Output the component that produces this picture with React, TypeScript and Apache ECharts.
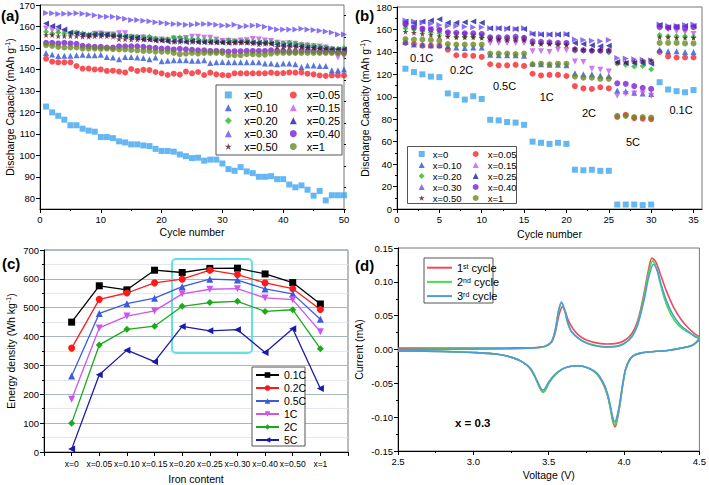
import React, { useEffect, useRef } from 'react';
import * as echarts from 'echarts';

const FONT = '"Liberation Sans", Arial, Helvetica, sans-serif';
const STAR = 'path://M50,0L61.2,34.5L97.6,34.5L68.2,55.9L79.4,90.5L50,69.1L20.6,90.5L31.8,55.9L2.4,34.5L38.8,34.5Z';

// ---------- shared series look (a) & (b) ----------
const seriesNames = ['x=0', 'x=0.05', 'x=0.10', 'x=0.15', 'x=0.20', 'x=0.25', 'x=0.30', 'x=0.40', 'x=0.50', 'x=1'];
const seriesColors = ['#3da5f0', '#f5252a', '#2e55d6', '#c257ee', '#1fbe1f', '#1a1f9a', '#6d4cf2', '#7a1fd6', '#5c1428', '#6a8a22'];
const seriesSymbols = ['rect', 'circle', 'triangle', 'triangle', 'diamond', 'triangle', 'triangle', 'circle', STAR, 'circle'];
const seriesRotate = [0, 0, 0, 180, 0, 90, -90, 0, 0, 0];

// ---------- (a) cycling at 0.1C, cycles 1..50 ----------
const a_x0 = [122.7, 120, 118.4, 116.6, 114, 114, 112.4, 111.5, 111, 108.5, 108.5, 108, 106.5, 106, 105.1, 105.1, 104.6, 104.3, 103, 102, 102, 101.7, 100.4, 99.6, 98.7, 98.9, 97.5, 98, 98, 96.2, 93.6, 92.8, 94.5, 92.5, 91.7, 90, 90, 90.3, 88.9, 88.9, 86.4, 85.1, 86, 84, 81.2, 83.4, 79, 81.4, 81.4, 81.4];
const a_x05 = [145, 143.6, 143.3, 143.3, 143.3, 141.6, 140.4, 140.4, 140, 140, 139.3, 139.4, 139, 138.6, 140.2, 139.3, 139.8, 139.7, 138.8, 138.2, 137.4, 138, 137.6, 139, 138.2, 138.8, 137.4, 138.5, 137.7, 137.4, 137.2, 138.2, 138.2, 138.2, 138.2, 138.2, 138.2, 138.5, 138.2, 138.3, 138.6, 138.5, 138.6, 138, 137.7, 137.2, 137, 137.2, 137.2, 137.2];
const a_x10 = [147.7, 146.9, 146.3, 146.4, 146.4, 146.6, 146.8, 146.6, 146.6, 146.8, 145.8, 145.5, 144.7, 145.8, 145.8, 145.5, 145.3, 144.7, 145.5, 143.8, 144, 144.3, 144.3, 144.3, 144, 144, 144.3, 143, 143.3, 143.4, 143.3, 143.3, 143.3, 143.3, 143.3, 143.3, 142.7, 142.7, 142.4, 142.7, 142.7, 142.4, 141.1, 141.8, 141.8, 141.6, 141.6, 139.6, 139.6, 140];
const a_x15 = [159.1, 158.3, 157.8, 157.2, 156.4, 156.6, 156, 155.6, 156.6, 156.7, 156.3, 156.3, 156.9, 156.9, 155, 154.7, 154.9, 154.4, 153.9, 153.9, 153.6, 154.4, 154.2, 154.6, 155.2, 155.2, 154.7, 154.7, 153.9, 153.2, 153.3, 153, 153.5, 153.6, 154.2, 153.9, 153.5, 153.2, 152.4, 152.1, 152.2, 151.9, 151.3, 151.1, 150.8, 150.7, 150.2, 149.3, 145.5, 146.1];
const a_x20 = [157.5, 156.7, 157.2, 156.7, 156.7, 157.2, 156.7, 156.1, 156.6, 156.7, 156.3, 156.3, 155.8, 155.6, 155.5, 155.2, 155, 155.2, 154.4, 153.9, 154.1, 154.7, 154.9, 154.4, 154.1, 154.1, 153.6, 153.6, 153.5, 152.8, 153.6, 153.2, 153, 153.2, 152.8, 152.5, 152.5, 152.5, 152.5, 152.1, 152.4, 151.9, 151.6, 151.3, 151, 150.5, 150.2, 149.7, 149.6, 150];
const a_x25 = [161.4, 160.2, 159.9, 158.6, 157.2, 156.7, 156.3, 156, 156.3, 156.3, 156.3, 155.8, 155.6, 155.3, 154.9, 154.7, 154.1, 153.9, 153.5, 153.5, 153, 153.2, 153.3, 152.8, 153.2, 152.8, 152.8, 152.8, 152.7, 152.5, 152.4, 152.7, 152.8, 152.7, 152.5, 152.4, 152.4, 151.9, 151.6, 151.3, 151.3, 151, 150.7, 150.2, 150.2, 149.9, 149.6, 149.3, 149.3, 149.3];
const a_x30 = [166.3, 166.1, 165.8, 165.9, 165.9, 166.1, 165.9, 165.6, 165.2, 164.7, 164.5, 164.5, 164.1, 163.6, 163, 163, 162.7, 162.4, 162, 161.7, 161.4, 161.1, 161.1, 160.8, 160.8, 161.1, 161.1, 161.1, 160.8, 160.5, 160.5, 160.8, 159.9, 160.2, 160.5, 160.5, 159.9, 159.2, 158.6, 158.6, 158.6, 158.6, 158.9, 158.6, 158.3, 158, 157.7, 157.2, 156.3, 156.3];
const a_x40 = [152.4, 152.4, 152.1, 152.4, 152.1, 151.9, 151, 150.8, 150.5, 150.5, 150.2, 150.2, 150.8, 150.8, 150.8, 150.8, 150.5, 150.2, 150, 149.7, 149.7, 149.3, 149.6, 149.4, 149.1, 148.9, 148.9, 148.6, 148.6, 148.5, 148.3, 148.5, 148.5, 148.6, 148.6, 148.6, 148.6, 148.9, 148.6, 148.6, 148.3, 148.3, 148.6, 148.6, 148.5, 148.3, 148.3, 148.3, 148, 148];
const a_x50 = [156, 156, 155.5, 155.5, 155.5, 155.5, 155.2, 155.2, 155.5, 155.5, 155.5, 155.2, 154.1, 154.1, 153.9, 153.9, 153.9, 153.9, 153.6, 153.6, 153.6, 152.8, 152.8, 153, 152.8, 152.8, 152.7, 152.5, 152.5, 152.7, 152.4, 152.4, 152.4, 152.4, 152.1, 151.7, 151.9, 152.1, 150.5, 150.5, 150.5, 150.5, 150.5, 150.2, 150, 149.7, 149.4, 149.3, 149.3, 149.3];
const a_x1 = [151.3, 151, 150.5, 150.2, 150.2, 150.2, 149.7, 149.7, 149.7, 149.6, 149.7, 149.4, 149.3, 149.3, 149.1, 148.9, 148.6, 148.6, 148.3, 148.3, 148.3, 147.7, 147.1, 147.4, 147.7, 147.4, 147.7, 147.7, 147.7, 147.7, 146.6, 146.6, 146.6, 147.1, 147.1, 146.9, 146.9, 147.4, 147.7, 147.7, 147.7, 147.7, 147.7, 147.7, 147.7, 147.7, 147.7, 147.7, 147.7, 147.4];
const capA = [a_x0, a_x05, a_x10, a_x15, a_x20, a_x25, a_x30, a_x40, a_x50, a_x1];

// ---------- (b) rate capability, cycles 1..35 ----------
const b_x0 = [125, 122, 120, 118, 117.5, 103, 101.5, 97.5, 100.5, 98, 79.5, 79, 77.5, 77, 75, 60, 59, 58, 59, 58, 35, 34.5, 35, 34, 34, 4, 4, 4, 3.5, 4, 113, 106.5, 105, 104, 106];
const b_x05 = [148, 147, 145.5, 145.5, 145.5, 142, 137, 137, 136.5, 135.5, 129, 128, 128, 128.5, 127.5, 120.5, 119, 119.5, 119.5, 118.5, 109.5, 107.5, 107, 108.5, 107.5, 82, 84, 81, 80.5, 80, 140, 136, 135, 135, 135];
const b_x10 = [149, 146.5, 146.5, 146, 146, 145, 144, 143.5, 144, 144, 137.5, 137, 137, 137, 136.5, 129.5, 129, 128.5, 128.5, 128, 121, 120, 120, 119, 118.5, 105.5, 105, 103.5, 103, 102.5, 142, 140.5, 140.5, 140, 140];
const b_x15 = [163, 161, 160, 160, 159, 156, 155, 155, 154, 154, 148, 148, 148, 148, 148, 140.5, 140.5, 140, 142, 141.5, 131.5, 131, 125, 124, 122.5, 101, 102.5, 103, 103, 101, 163, 160, 158.5, 157.5, 156];
const b_x20 = [161, 160, 158.5, 157.5, 156.5, 154.5, 153.5, 153.5, 153.5, 153, 152.5, 152, 152, 152, 152.5, 148, 147.5, 147.5, 147, 147, 141, 141, 141, 141, 139.5, 129.5, 128.5, 127, 127.5, 124.5, 155, 154, 154, 154, 153.5];
const b_x25 = [167, 166, 167, 168, 169, 166, 166, 166.5, 167, 166, 161, 161, 161, 160.5, 160.5, 156, 155.5, 155.5, 155.5, 155.5, 148, 147, 146, 145, 145.5, 131, 130, 130, 130, 129.5, 164, 162, 162.5, 163, 163];
const b_x30 = [168, 167, 166, 165, 164, 163, 163, 162.5, 162, 162, 161, 161, 160.5, 160.5, 161, 156.5, 156, 155.5, 155.5, 156, 151, 150.5, 150, 149.5, 150.5, 134.5, 134, 133.5, 133, 132.5, 164.5, 163, 163, 164, 164.5];
const b_x40 = [164.5, 162, 160.5, 160, 159.5, 157.5, 157, 156.5, 156.5, 156, 153, 153, 153, 153.5, 152.5, 149.5, 149, 148.5, 148, 148, 142, 141.5, 141, 141, 141, 112, 111.5, 109.5, 108, 107, 162, 161.5, 162, 161, 162];
const b_x50 = [158, 157, 156, 155, 154, 153.5, 153, 153, 153, 152.5, 151, 151, 150.5, 150.5, 150.5, 147, 147, 147, 146.5, 146, 143, 142, 142, 142, 141.5, 130.5, 131, 131.5, 132, 132.5, 153, 153, 152.5, 152.5, 152.5];
const b_x1 = [151.5, 151, 151, 150.5, 150, 147, 146.5, 146.5, 146.5, 146.5, 138.5, 138.5, 138.5, 138, 138.5, 129, 129.5, 129, 129.5, 129.5, 118, 117, 117, 116, 116, 83, 83, 82, 82, 81.5, 148, 148, 148, 147.5, 147.5];
const capB = [b_x0, b_x05, b_x10, b_x15, b_x20, b_x25, b_x30, b_x40, b_x50, b_x1];
const rateLabels = ['0.1C', '0.2C', '0.5C', '1C', '2C', '5C', '0.1C'];

// ---------- (c) energy density ----------
const ironContent = ['x=0', 'x=0.05', 'x=0.10', 'x=0.15', 'x=0.20', 'x=0.25', 'x=0.30', 'x=0.40', 'x=0.50', 'x=1'];
const rateNames = ['0.1C', '0.2C', '0.5C', '1C', '2C', '5C'];
const e_01C = [450, 576, 562, 630, 622, 636, 637, 617, 587, 513];
const e_02C = [360, 529, 551, 586, 599, 630, 615, 586, 566, 494];
const e_05C = [263, 480, 514, 533, 573, 599, 596, 565, 548, 460];
const e_1C = [183, 430, 471, 489, 548, 564, 566, 534, 528, 417];
const e_2C = [100, 371, 425, 436, 505, 518, 522, 487, 493, 358];
const e_5C = [10, 268, 353, 313, 435, 420, 424, 345, 427, 220];
const energy = [e_01C, e_02C, e_05C, e_1C, e_2C, e_5C];
const rateColors = ['#000000', '#ff1a1a', '#3b5bdb', '#cc55ee', '#1aaa1a', '#1a1aaa'];
const rateSymbols = ['rect', 'circle', 'triangle', 'triangle', 'diamond', 'triangle'];
const rateRotate = [0, 0, 0, 180, 0, 90];

// ---------- (d) cyclic voltammetry, x = 0.3 ----------
const cvUp1 = [[2.5, 0.002], [2.8, 0.002], [3.1, 0.002], [3.3, 0.0025], [3.42, 0.003], [3.48, 0.005], [3.52, 0.011], [3.545, 0.026], [3.565, 0.048], [3.59, 0.063], [3.61, 0.056], [3.63, 0.043], [3.66, 0.031], [3.7, 0.021], [3.75, 0.014], [3.8, 0.0105], [3.88, 0.0082], [3.95, 0.009], [4.0, 0.013], [4.05, 0.023], [4.09, 0.042], [4.13, 0.08], [4.16, 0.115], [4.185, 0.135], [4.21, 0.13], [4.24, 0.112], [4.28, 0.087], [4.33, 0.062], [4.38, 0.044], [4.43, 0.031], [4.47, 0.023], [4.5, 0.018]];
const cvDown1 = [[4.5, 0.018], [4.48, 0.011], [4.45, 0.006], [4.4, 0.003], [4.3, -0.001], [4.2, -0.003], [4.12, -0.005], [4.07, -0.008], [4.04, -0.014], [4.01, -0.03], [3.99, -0.055], [3.97, -0.086], [3.95, -0.109], [3.94, -0.114], [3.925, -0.106], [3.91, -0.088], [3.89, -0.068], [3.86, -0.05], [3.82, -0.036], [3.77, -0.028], [3.7, -0.024], [3.64, -0.025], [3.59, -0.029], [3.54, -0.038], [3.5, -0.05], [3.475, -0.061], [3.46, -0.063], [3.44, -0.056], [3.41, -0.041], [3.38, -0.029], [3.33, -0.019], [3.26, -0.012], [3.16, -0.007], [3.0, -0.0045], [2.8, -0.003], [2.5, -0.002]];
const cvUp2 = [[2.5, 0.0], [2.8, 0.0005], [3.1, 0.001], [3.3, 0.0015], [3.42, 0.0025], [3.48, 0.005], [3.52, 0.012], [3.545, 0.03], [3.565, 0.056], [3.585, 0.069], [3.605, 0.058], [3.625, 0.04], [3.65, 0.027], [3.7, 0.016], [3.75, 0.01], [3.8, 0.0065], [3.88, 0.004], [3.95, 0.005], [4.0, 0.009], [4.05, 0.019], [4.09, 0.038], [4.13, 0.075], [4.16, 0.11], [4.19, 0.131], [4.215, 0.12], [4.24, 0.098], [4.27, 0.074], [4.31, 0.052], [4.36, 0.036], [4.42, 0.026], [4.47, 0.02], [4.5, 0.017]];
const cvDown2 = [[4.5, 0.017], [4.48, 0.011], [4.45, 0.006], [4.4, 0.003], [4.3, -0.001], [4.2, -0.003], [4.12, -0.005], [4.07, -0.008], [4.04, -0.014], [4.01, -0.03], [3.99, -0.054], [3.97, -0.084], [3.95, -0.106], [3.94, -0.111], [3.925, -0.104], [3.91, -0.087], [3.89, -0.067], [3.86, -0.049], [3.82, -0.036], [3.77, -0.028], [3.7, -0.024], [3.64, -0.025], [3.59, -0.029], [3.54, -0.038], [3.5, -0.05], [3.475, -0.061], [3.46, -0.063], [3.44, -0.056], [3.41, -0.041], [3.38, -0.029], [3.33, -0.019], [3.26, -0.012], [3.16, -0.007], [3.0, -0.0045], [2.8, -0.003], [2.5, -0.002]];
const cvUp3 = [[2.5, -0.0005], [2.8, 0.0], [3.1, 0.0008], [3.3, 0.0014], [3.42, 0.0025], [3.48, 0.005], [3.52, 0.012], [3.545, 0.031], [3.565, 0.057], [3.585, 0.07], [3.605, 0.059], [3.625, 0.041], [3.65, 0.027], [3.7, 0.016], [3.75, 0.0095], [3.8, 0.006], [3.88, 0.0035], [3.95, 0.0045], [4.0, 0.0085], [4.05, 0.018], [4.09, 0.036], [4.13, 0.07], [4.165, 0.108], [4.195, 0.126], [4.22, 0.117], [4.245, 0.097], [4.28, 0.073], [4.32, 0.053], [4.37, 0.037], [4.43, 0.026], [4.47, 0.019], [4.5, 0.015]];
const cvDown3 = [[4.5, 0.015], [4.48, 0.01], [4.45, 0.006], [4.4, 0.003], [4.3, -0.001], [4.2, -0.003], [4.12, -0.005], [4.07, -0.008], [4.04, -0.014], [4.01, -0.029], [3.99, -0.052], [3.97, -0.081], [3.95, -0.102], [3.94, -0.107], [3.925, -0.1], [3.91, -0.084], [3.89, -0.065], [3.86, -0.048], [3.82, -0.035], [3.77, -0.028], [3.7, -0.024], [3.64, -0.025], [3.59, -0.029], [3.54, -0.037], [3.5, -0.048], [3.475, -0.058], [3.46, -0.06], [3.44, -0.054], [3.41, -0.04], [3.38, -0.028], [3.33, -0.019], [3.26, -0.012], [3.16, -0.007], [3.0, -0.0045], [2.8, -0.003], [2.5, -0.002]];
const cvNames = ['1st cycle', '2nd cycle', '3rd cycle'];
const cvSup = ['st', 'nd', 'rd'];
const cvColors = ['#f04a5a', '#44e044', '#4a9be0'];
const cvCurves = [cvUp1.concat(cvDown1), cvUp2.concat(cvDown2), cvUp3.concat(cvDown3)];

// ---------- ticks ----------
const ticksA = [80, 90, 100, 110, 120, 130, 140, 150, 160, 170];
const minorTicksA = [75, 85, 95, 105, 115, 125, 135, 145, 155, 165];
const ticksBx = [0, 5, 10, 15, 20, 25, 30, 35];

const axisCommon: any = {
  axisLine: { show: true, onZero: false, lineStyle: { color: '#000', width: 1 } },
  axisTick: { show: true, inside: false, length: 4, lineStyle: { color: '#000' } },
  minorTick: { show: true, splitNumber: 2, length: 2, lineStyle: { color: '#000' } },
  axisLabel: { color: '#000', fontSize: 9.5, margin: 5, fontFamily: FONT },
  splitLine: { show: false },
  nameLocation: 'middle',
  nameTextStyle: {
    color: '#000', fontSize: 10.5, fontFamily: FONT,
    rich: { s: { fontSize: 7, fontFamily: FONT, color: '#000', verticalAlign: 'bottom', padding: [0, 0, 5, 0] } },
  },
};

function ax(extra: any) {
  return {
    ...axisCommon,
    ...extra,
    axisLine: { ...axisCommon.axisLine, ...(extra.axisLine || {}) },
    axisTick: { ...axisCommon.axisTick, ...(extra.axisTick || {}) },
    minorTick: { ...axisCommon.minorTick, ...(extra.minorTick || {}) },
    axisLabel: { ...axisCommon.axisLabel, ...(extra.axisLabel || {}) },
  };
}

export default function App() {
  const ref = useRef<HTMLDivElement>(null);
  useEffect(() => {
    if (!ref.current) return;
    const chart = echarts.init(ref.current, null, { renderer: 'svg' });

    const series: any[] = [];
    capA.forEach((vals, i) => {
      series.push({
        type: 'scatter', name: seriesNames[i], xAxisIndex: 0, yAxisIndex: 0,
        symbol: seriesSymbols[i], symbolRotate: seriesRotate[i], symbolSize: 6,
        itemStyle: { color: seriesColors[i] },
        data: vals.map((v, j) => [j + 1, v]),
      });
    });
    capB.forEach((vals, i) => {
      series.push({
        type: 'scatter', name: seriesNames[i], xAxisIndex: 1, yAxisIndex: 1,
        symbol: seriesSymbols[i], symbolRotate: seriesRotate[i], symbolSize: 6,
        itemStyle: { color: seriesColors[i] },
        data: vals.map((v, j) => [j + 1, v]),
      });
    });
    energy.forEach((vals, i) => {
      series.push({
        type: 'line', name: rateNames[i], xAxisIndex: 2, yAxisIndex: 2,
        symbol: rateSymbols[i], symbolRotate: rateRotate[i], symbolSize: 7, showSymbol: true,
        itemStyle: { color: rateColors[i] },
        lineStyle: { color: rateColors[i], width: 1.3 },
        data: vals.map((v, j) => [ironContent[j], v]),
      });
    });
    cvCurves.forEach((pts, i) => {
      series.push({
        type: 'line', name: cvNames[i], xAxisIndex: 3, yAxisIndex: 3,
        symbol: 'none', smooth: 0.3,
        itemStyle: { color: cvColors[i] },
        lineStyle: { color: cvColors[i], width: 1.6 },
        data: pts,
      });
    });

    const legendText = { fontSize: 11, fontFamily: FONT, color: '#000' };
    const colA1 = ['x=0', 'x=0.10', 'x=0.20', 'x=0.30', 'x=0.50'];
    const colA2 = ['x=0.05', 'x=0.15', 'x=0.25', 'x=0.40', 'x=1'];

    const option: any = {
      animation: false,
      textStyle: { fontFamily: FONT },
      grid: [
        { left: 40, top: 5, width: 304, height: 204, show: true, borderColor: '#777', borderWidth: 1 },
        { left: 397, top: 7, width: 305, height: 202, show: true, borderColor: '#777', borderWidth: 1 },
        { left: 44, top: 250, width: 304, height: 203, show: true, borderColor: '#777', borderWidth: 1 },
        { left: 398, top: 248, width: 304, height: 203, show: true, borderColor: '#777', borderWidth: 1 },
      ],
      xAxis: [
        ax({ gridIndex: 0, type: 'value', min: 0, max: 50, interval: 10, name: 'Cycle number', nameGap: 17 }),
        ax({ gridIndex: 1, type: 'value', min: 0, max: 36, interval: 5, name: 'Cycle number', nameGap: 19,
          axisLabel: { customValues: ticksBx }, axisTick: { customValues: ticksBx } }),
        ax({ gridIndex: 2, type: 'category', boundaryGap: false, data: [''].concat(ironContent, ['']),
          name: 'Iron content', nameGap: 21, minorTick: { show: false },
          axisLabel: { interval: 0, fontSize: 8.5, margin: 7 }, axisTick: { interval: 0 } }),
        ax({ gridIndex: 3, type: 'value', min: 2.5, max: 4.5, interval: 0.5, name: 'Voltage (V)', nameGap: 18,
          axisLabel: { formatter: (v: number) => v.toFixed(1) } }),
      ],
      yAxis: [
        ax({ gridIndex: 0, type: 'value', min: 75, max: 170, name: 'Discharge Capacity (mAh g{s|-1})', nameGap: 23,
          minorTick: { show: false },
          axisLabel: { customValues: ticksA }, axisTick: { customValues: ticksA } }),
        ax({ gridIndex: 1, type: 'value', min: 0, max: 180, interval: 20, name: 'Discharge Capacity (mAh g{s|-1})', nameGap: 26 }),
        ax({ gridIndex: 2, type: 'value', min: 0, max: 700, interval: 100, name: 'Energy density (Wh kg{s|-1})', nameGap: 27,
          splitLine: { show: true, lineStyle: { color: '#a9b6c4', width: 1 } },
          minorSplitLine: { show: true, lineStyle: { color: '#e4e8ee', width: 1 } } }),
        ax({ gridIndex: 3, type: 'value', min: -0.15, max: 0.15, interval: 0.05, name: 'Current (mA)', nameGap: 34,
          axisLabel: { formatter: (v: number) => (Math.abs(v) < 1e-9 ? '0.00' : v.toFixed(2)) } }),
        ax({ gridIndex: 0, type: 'value', min: 75, max: 170, axisLine: { show: false }, minorTick: { show: false },
          axisLabel: { show: false }, axisTick: { customValues: minorTicksA, length: 2 } }),
      ],
      legend: [
        { data: colA1, orient: 'vertical', left: 224.8, top: 88.5, padding: 0,
          itemWidth: 7, itemHeight: 7, itemGap: 0, selectedMode: false,
          textStyle: { ...legendText, lineHeight: 12.9, padding: [0, 0, 0, 7.5] } },
        { data: colA2, orient: 'vertical', left: 289.8, top: 88.5, padding: 0,
          itemWidth: 7, itemHeight: 7, itemGap: 0, selectedMode: false,
          textStyle: { ...legendText, lineHeight: 12.9, padding: [0, 0, 0, 5] } },
        { data: colA1, orient: 'vertical', left: 418.7, top: 148.5, padding: 0,
          itemWidth: 6, itemHeight: 6, itemGap: 0, selectedMode: false,
          textStyle: { ...legendText, fontSize: 9.5, lineHeight: 11, padding: [0, 0, 0, 3] } },
        { data: colA2, orient: 'vertical', left: 472.7, top: 148.5, padding: 0,
          itemWidth: 6, itemHeight: 6, itemGap: 0, selectedMode: false,
          textStyle: { ...legendText, fontSize: 9.5, lineHeight: 11, padding: [0, 0, 0, 4] } },
        { data: rateNames, orient: 'vertical', left: 255, top: 368.5, padding: 0,
          itemWidth: 23, itemHeight: 7, itemGap: 0, selectedMode: false,
          textStyle: { ...legendText, fontSize: 10.5, lineHeight: 13 } },
        { data: cvNames.map((n) => ({ name: n, icon: 'rect' })), orient: 'vertical', left: 427, top: 260.6, padding: 0,
          itemWidth: 25, itemHeight: 2, itemGap: 0, selectedMode: false,
          formatter: (n: string) => { const i = cvNames.indexOf(n); return '{a|' + (i + 1) + '}{s|' + cvSup[i] + '}{a| cycle}'; },
          textStyle: { ...legendText, lineHeight: 14.2,
            rich: { a: { fontSize: 11, fontFamily: FONT, color: '#000' },
                    s: { fontSize: 7, fontFamily: FONT, color: '#000', verticalAlign: 'bottom', padding: [0, 0, 5, 0] } } } },
      ],
      graphic: [
        { type: 'rect', z: 3, shape: { x: 216, y: 85, width: 126, height: 70 }, style: { fill: 'none', stroke: '#555', lineWidth: 1 } },
        { type: 'rect', z: 3, shape: { x: 407.5, y: 146.5, width: 109, height: 57 }, style: { fill: 'none', stroke: '#555', lineWidth: 1 } },
        { type: 'rect', z: 3, shape: { x: 252, y: 367, width: 53, height: 79 }, style: { fill: '#fff', stroke: '#555', lineWidth: 1 } },
        { type: 'rect', z: 3, shape: { x: 424, y: 258, width: 69, height: 45 }, style: { fill: 'none', stroke: '#555', lineWidth: 1 } },
        { type: 'rect', z: 3, shape: { x: 172, y: 259, width: 80, height: 94, r: 4 }, style: { fill: 'none', stroke: '#5fe3e8', lineWidth: 2 } },
        { type: 'text', x: 1, y: 15, style: { text: '(a)', font: 'bold 15px ' + FONT, fill: '#000', textVerticalAlign: 'middle' } },
        { type: 'text', x: 355, y: 15, style: { text: '(b)', font: 'bold 15px ' + FONT, fill: '#000', textVerticalAlign: 'middle' } },
        { type: 'text', x: 2, y: 263, style: { text: '(c)', font: 'bold 15px ' + FONT, fill: '#000', textVerticalAlign: 'middle' } },
        { type: 'text', x: 355, y: 265, style: { text: '(d)', font: 'bold 15px ' + FONT, fill: '#000', textVerticalAlign: 'middle' } },
        ...[[421.7, 57.7], [461.7, 70], [504.5, 85.7], [546.7, 97.3], [589, 113.3], [633, 141.7], [681, 110]].map((p, i) => ({
          type: 'text', x: p[0], y: p[1],
          style: { text: rateLabels[i], font: '11px ' + FONT, fill: '#000', textAlign: 'center', textVerticalAlign: 'middle' },
        })),
        { type: 'text', x: 455, y: 423, style: { text: 'x = 0.3', font: 'bold 11.5px ' + FONT, fill: '#000', textVerticalAlign: 'middle' } },
      ],
      series,
    };
    chart.setOption(option);
    return () => chart.dispose();
  }, []);
  return <div ref={ref} style={{ position: 'absolute', left: 0, top: 0, width: 709, height: 485, background: '#fff' }} />;
}
